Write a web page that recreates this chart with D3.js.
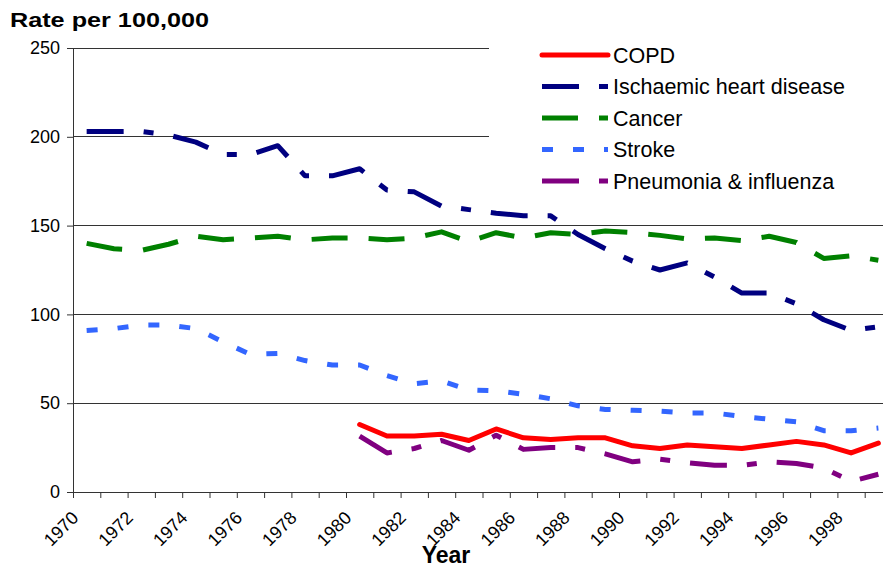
<!DOCTYPE html>
<html>
<head>
<meta charset="utf-8">
<script src="https://cdn.jsdelivr.net/npm/d3@7"></script>
<style>
  body { margin: 0; background: #fff; }
  text { font-family: "Liberation Sans", Arial, sans-serif; fill: #000; }
</style>
</head>
<body>
<div id="wrapper"></div>
<script>
// data
const years = [1970,1971,1972,1973,1974,1975,1976,1977,1978,1979,
  1980,1981,1982,1983,1984,1985,1986,1987,1988,1989,
  1990,1991,1992,1993,1994,1995,1996,1997,1998,1999]
const yearLabels = [1970,1972,1974,1976,1978,1980,1982,1984,1986,1988,1990,1992,1994,1996,1998]
const yTicks = [0, 50, 100, 150, 200, 250]

const copd = [null,null,null,null,null,null,null,null,null,null,
  38,31.5,31.5,32.5,29,35.5,30.5,29.5,30.5,30.5,
  26,24.5,26.5,25.5,24.5,26.5,28.5,26.5,22,27.5]
const ihd = [203,203,203,201,197,190,190,195,178,178,
  182,170,169,161,159,157,155.5,155.5,145,137,
  130,125,129,121,112,112,106,97,91,93]
const cancer = [140,137,136,139.5,144,142,143,144,142,143,
  143,142,143,146.5,141,146,143,146,145,147,
  146,144.5,142.5,143,141.5,144,140.5,131.5,133,130.5]
const stroke = [91,92,94,94,92,84.5,77.5,78,74,71.5,
  71.5,65.5,61,62.5,57.5,57,55,52.5,48.5,46.5,
  46,45.5,44.5,44.5,42.5,41,39.5,34.5,34.5,36]
const pneumonia = [null,null,null,null,null,null,null,null,null,null,
  31.5,22,24.5,29,23.5,32,24,25,25,21.5,
  17,18.5,16.5,15,15,17,16,13.5,6,10]

const seriesNames = ["COPD", "Ischaemic heart disease", "Cancer", "Stroke", "Pneumonia & influenza"]
const seriesValues = [copd, ihd, cancer, stroke, pneumonia]
const seriesColors = ["#ff0000", "#000080", "#008000", "#3366ff", "#800080"]
const seriesDashes = [null, "37,20,10,20", "36,21", "11,20", "37,20,10,20"]

// dimensions
const width = 883
const height = 569
const plot = { left: 73, right: 892, top: 48, bottom: 492 }

const svg = d3.select("#wrapper")
  .append("svg")
    .attr("width", width)
    .attr("height", height)

// scales
const xScale = d3.scaleLinear()
    .domain([1970, 2000])
    .range([plot.left, plot.right])

const yScale = d3.scaleLinear()
    .domain([0, 250])
    .range([plot.bottom, plot.top])

// gridlines
svg.append("g")
  .selectAll("line")
  .data(yTicks.filter(d => d > 0))
  .join("line")
    .attr("x1", plot.left)
    .attr("x2", plot.right)
    .attr("y1", d => yScale(d))
    .attr("y2", d => yScale(d))
    .attr("stroke", "#333")
    .attr("stroke-width", 1)
    .attr("shape-rendering", "crispEdges")

// axes
const yAxis = svg.append("g")
    .attr("transform", `translate(${plot.left},0)`)
    .call(d3.axisLeft(yScale).tickValues(yTicks).tickSize(6).tickSizeOuter(0))
yAxis.select(".domain").attr("stroke", "#333")
yAxis.selectAll(".tick line").attr("stroke", "#333")
yAxis.selectAll(".tick text")
    .attr("x", -13)
    .style("font-size", "18px")
    .style("font-family", "Liberation Sans, Arial, sans-serif")

const xAxis = svg.append("g")
    .attr("transform", `translate(0,${plot.bottom})`)
    .call(d3.axisBottom(xScale)
      .tickValues(d3.range(1970, 2001))
      .tickSize(6)
      .tickSizeOuter(0)
      .tickFormat(d => yearLabels.includes(d) ? String(d) : ""))
xAxis.select(".domain").attr("stroke", "#333")
xAxis.selectAll(".tick line").attr("stroke", "#333")
xAxis.selectAll(".tick text")
    .attr("y", 0)
    .attr("dy", 0)
    .attr("text-anchor", "end")
    .attr("transform", "translate(6,27) rotate(-45)")
    .style("font-size", "18px")
    .style("font-family", "Liberation Sans, Arial, sans-serif")

// lines
const lineGen = d3.line()
    .defined(d => d.v != null)
    .x(d => xScale(d.year + 0.5))
    .y(d => yScale(d.v))

seriesValues.forEach((vals, i) => {
  const pts = years.map((year, j) => ({ year, v: vals[j] }))
  svg.append("path")
      .datum(pts)
      .attr("d", lineGen)
      .attr("fill", "none")
      .attr("stroke", seriesColors[i])
      .attr("stroke-width", 5)
      .attr("stroke-linejoin", "round")
      .attr("stroke-linecap", seriesDashes[i] ? "butt" : "round")
      .attr("stroke-dasharray", seriesDashes[i])
})

// legend
const legend = svg.append("g")
legend.append("rect")
    .attr("x", 489)
    .attr("y", 30)
    .attr("width", 400)
    .attr("height", 172)
    .attr("fill", "#fff")

const legendRows = legend.selectAll("g")
  .data(seriesNames)
  .join("g")
    .attr("transform", (d, i) => `translate(0,${55 + i * 31.5})`)

legendRows.append("line")
    .attr("x1", 542)
    .attr("x2", 608)
    .attr("stroke", (d, i) => seriesColors[i])
    .attr("stroke-width", 5)
    .attr("stroke-linecap", (d, i) => seriesDashes[i] ? "butt" : "round")
    .attr("stroke-dasharray", (d, i) => seriesDashes[i])

legendRows.append("text")
    .attr("x", 613)
    .attr("y", 7.5)
    .style("font-size", "21.5px")
    .text(d => d)

// titles
svg.append("text")
    .attr("x", 10)
    .attr("y", 27)
    .attr("textLength", 199)
    .attr("lengthAdjust", "spacingAndGlyphs")
    .style("font-size", "20px")
    .style("font-weight", "bold")
    .text("Rate per 100,000")

svg.append("text")
    .attr("x", 446)
    .attr("y", 563)
    .attr("text-anchor", "middle")
    .style("font-size", "23px")
    .style("font-weight", "bold")
    .text("Year")
</script>
</body>
</html>
